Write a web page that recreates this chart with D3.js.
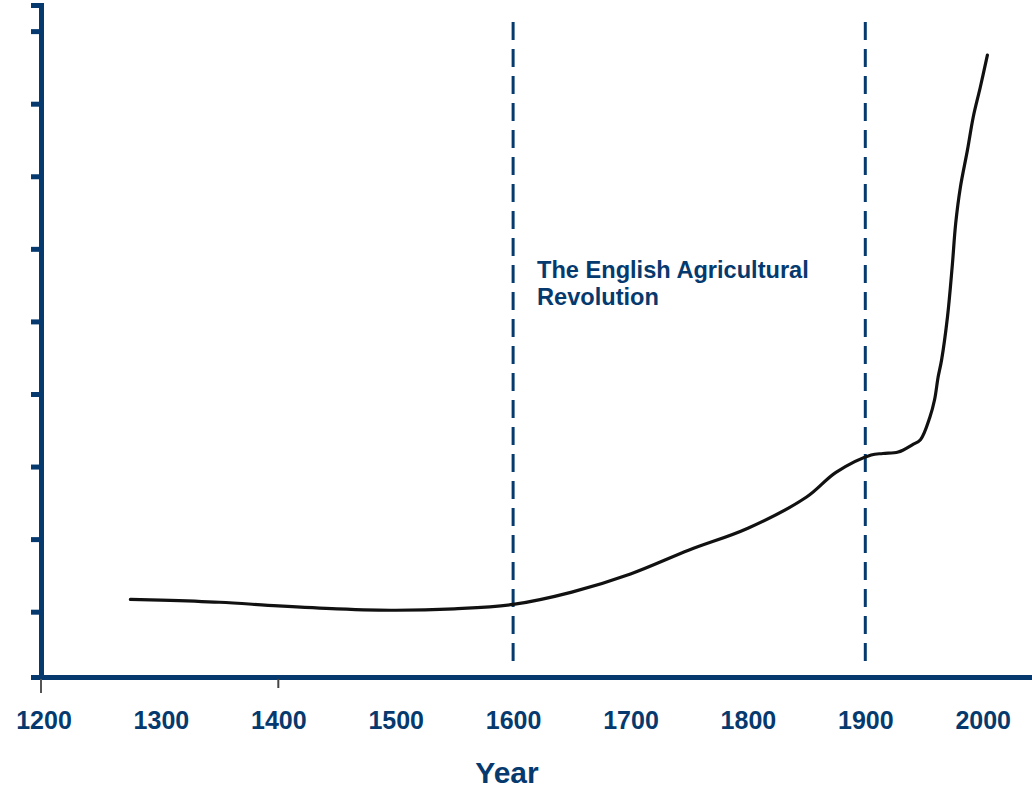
<!DOCTYPE html>
<html>
<head>
<meta charset="utf-8">
<script src="https://cdn.jsdelivr.net/npm/d3@7"></script>
<style>
  html, body { margin: 0; padding: 0; background: #fff; }
  svg { display: block; }
</style>
</head>
<body>
<svg id="chart" width="1032" height="791"></svg>
<script>
// ---- data ----
const years  = [1274, 1300, 1350, 1400, 1450, 1500, 1550, 1600, 1650, 1700, 1750, 1800, 1850, 1875, 1905, 1915, 1928, 1940, 1947, 1955, 1959, 1962, 1965, 1970, 1974, 1977, 1981, 1987, 1992, 1998, 2004];
const values = [1.17, 1.16, 1.13, 1.08, 1.04, 1.02, 1.04, 1.10, 1.27, 1.52, 1.85, 2.15, 2.58, 2.92, 3.16, 3.18, 3.20, 3.30, 3.37, 3.68, 3.92, 4.23, 4.47, 5.06, 5.75, 6.35, 6.85, 7.36, 7.82, 8.23, 8.67];
const xTickLabels = [1200, 1300, 1400, 1500, 1600, 1700, 1800, 1900, 2000];
const yTickValues = [1, 2, 3, 4, 5, 6, 7, 8, 9];
const markerYears = [1600, 1900];
const annotationLines = ["The English Agricultural", "Revolution"];
const xTitle = "Year";

// ---- setup ----
const navy = "#063a6e";
const svg = d3.select("#chart");
const x = d3.scaleLinear().domain([1197, 2042]).range([40, 1032]);
const y = d3.scaleLinear().domain([0.1, 9.36]).range([677, 5]);

// marker dashed lines
svg.selectAll("line.marker")
  .data(markerYears)
  .join("line")
  .attr("class", "marker")
  .attr("x1", d => x(d)).attr("x2", d => x(d))
  .attr("y1", 22).attr("y2", 670)
  .attr("stroke", navy)
  .attr("stroke-width", 3)
  .attr("stroke-dasharray", "18,9");

// data line
const pts = years.map((yr, i) => [yr, values[i]]);
svg.append("path")
  .datum(pts)
  .attr("fill", "none")
  .attr("stroke", "#111")
  .attr("stroke-width", 3.2)
  .attr("stroke-linejoin", "round")
  .attr("stroke-linecap", "round")
  .attr("d", d3.line().x(d => x(d[0])).y(d => y(d[1])).curve(d3.curveCatmullRom.alpha(0.5)));

// y axis
const yAxis = svg.append("g")
  .attr("transform", "translate(41,0)")
  .call(d3.axisLeft(y).tickValues(yTickValues).tickFormat("").tickSizeOuter(0).tickSize(10));
yAxis.select(".domain").attr("stroke", navy).attr("stroke-width", 5);
yAxis.selectAll(".tick line").attr("stroke", navy).attr("stroke-width", 5);

// x axis
const xAxis = svg.append("g")
  .attr("transform", "translate(0,677)")
  .call(d3.axisBottom(x).tickValues(xTickLabels).tickFormat(d3.format("d")).tickSize(0).tickSizeOuter(0).tickPadding(34));
xAxis.select(".domain").attr("stroke", navy).attr("stroke-width", 5);
xAxis.selectAll(".tick text")
  .attr("fill", navy)
  .attr("font-family", "Liberation Sans, Arial, sans-serif")
  .attr("font-weight", "bold")
  .attr("font-size", 25);

// small tick stubs below x axis
svg.append("line").attr("x1", 41).attr("x2", 41).attr("y1", 679).attr("y2", 693)
  .attr("stroke", "#555").attr("stroke-width", 2);
svg.append("line").attr("x1", x(1400)).attr("x2", x(1400)).attr("y1", 679).attr("y2", 688)
  .attr("stroke", "#444").attr("stroke-width", 2);

// x title
svg.append("text")
  .attr("x", 507).attr("y", 783)
  .attr("text-anchor", "middle")
  .attr("fill", navy)
  .attr("font-family", "Liberation Sans, Arial, sans-serif")
  .attr("font-weight", "bold")
  .attr("font-size", 30)
  .text(xTitle);

// annotation
svg.append("text")
  .attr("x", 537).attr("y", 278)
  .attr("fill", navy)
  .attr("font-family", "Liberation Sans, Arial, sans-serif")
  .attr("font-weight", "bold")
  .attr("font-size", 23.6)
  .selectAll("tspan")
  .data(annotationLines)
  .join("tspan")
  .attr("x", 537)
  .attr("dy", (d, i) => i === 0 ? 0 : 27)
  .text(d => d);
</script>
</body>
</html>
